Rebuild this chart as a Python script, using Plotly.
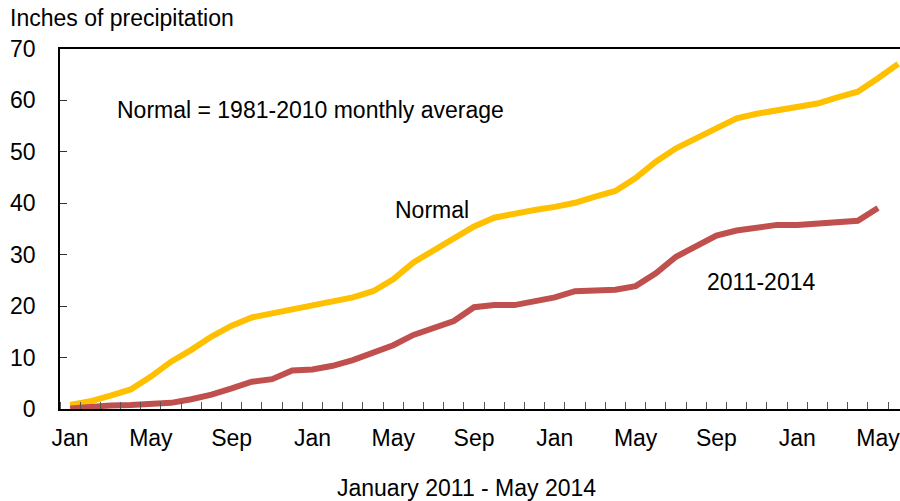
import plotly.graph_objects as go

# Month index 0 = Jan 2011
normal_values = [0.8, 1.5, 2.6, 3.8, 6.3, 9.2, 11.5, 14.1, 16.2, 17.8, 18.6, 19.4,
                 20.0, 20.7, 21.7, 22.9, 25.2, 28.5, 30.9, 33.4, 35.5, 37.2, 38.0, 38.7,
                 39.3, 40.1, 41.3, 42.4, 44.9, 48.1, 50.7, 52.6, 54.8, 56.5, 57.4, 58.1,
                 58.7, 59.4, 60.6, 61.7, 64.3, 67.1]
actual_values = [0.1, 0.5, 0.7, 0.8, 1.0, 1.2, 1.9, 2.8, 4.0, 5.3, 5.8, 7.5,
                 7.7, 8.4, 9.5, 10.9, 12.4, 14.4, 15.6, 17.1, 19.8, 20.2, 20.2, 20.9,
                 21.7, 22.9, 23.1, 23.2, 23.9, 26.4, 29.6, 31.8, 33.7, 34.7, 35.2, 35.8,
                 35.8, 36.1, 36.2, 36.6, 39.1]
normal_months = list(range(len(normal_values)))
actual_months = list(range(len(actual_values)))

tick_positions = [0, 4, 8, 12, 16, 20, 24, 28, 32, 36, 40]
tick_labels = ["Jan", "May", "Sep", "Jan", "May", "Sep", "Jan", "May", "Sep", "Jan", "May"]
y_ticks = [0, 10, 20, 30, 40, 50, 60, 70]

FONT = "Liberation Sans, Arial, sans-serif"
FS = 23

fig = go.Figure()
fig.add_trace(go.Scatter(x=normal_months, y=normal_values, mode="lines",
                         line=dict(color="#FFC000", width=6), name="Normal",
                         showlegend=False))
fig.add_trace(go.Scatter(x=actual_months, y=actual_values, mode="lines",
                         line=dict(color="#C0504D", width=6), name="2011-2014",
                         showlegend=False))

fig.update_layout(
    width=900, height=501,
    margin=dict(l=60, r=0, t=49, b=92),
    paper_bgcolor="white", plot_bgcolor="white",
    font=dict(family=FONT, size=FS, color="black"),
    xaxis=dict(range=[-0.5, 41.09], tickmode="array", tickvals=tick_positions,
               ticktext=tick_labels, ticks="", showgrid=False, zeroline=False,
               showline=True, linecolor="black", linewidth=1.5, mirror=True,
               ticklabelstandoff=8, ticklabeloverflow="allow",
               minor=dict(ticks="inside", ticklen=7, tick0=0.5, dtick=1,
                          tickcolor="#555555", tickwidth=1, showgrid=False)),
    yaxis=dict(range=[0, 70], tickmode="array", tickvals=y_ticks, ticks="inside",
               ticklen=7, tickcolor="#333333", showgrid=False, zeroline=False,
               showline=True, linecolor="black", linewidth=1.5,
               ticklabelstandoff=18),
    annotations=[
        dict(text="Inches of precipitation", xref="paper", yref="paper",
             x=(8-60)/840, y=(409-18)/360, xanchor="left", yanchor="middle",
             showarrow=False, font=dict(size=FS)),
        dict(text="Normal = 1981-2010 monthly average", xref="x", yref="y",
             x=2.23, y=58.1, xanchor="left", yanchor="middle", showarrow=False,
             font=dict(size=FS)),
        dict(text="Normal", xref="x", yref="y", x=17.9, y=38.7,
             xanchor="center", yanchor="middle", showarrow=False, font=dict(size=FS)),
        dict(text="2011-2014", xref="x", yref="y", x=34.2, y=24.7,
             xanchor="center", yanchor="middle", showarrow=False, font=dict(size=FS)),
        dict(text="January 2011 - May 2014", xref="paper", yref="paper",
             x=(466-60)/840, y=(409-488)/360, xanchor="center", yanchor="middle",
             showarrow=False, font=dict(size=FS)),
    ],
)

fig.write_html("out.html", config={"displayModeBar": False},
               post_script="document.body.style.margin='0';document.body.style.padding='0';")
